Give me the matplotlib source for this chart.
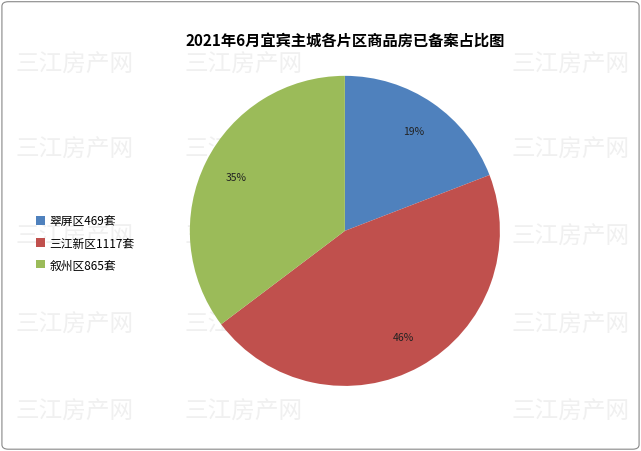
import matplotlib
matplotlib.use("Agg")
import matplotlib.pyplot as plt
from matplotlib.patches import FancyBboxPatch, Patch

plt.rcParams['font.family'] = ['Noto Sans CJK SC', 'DejaVu Sans']

labels = ["翠屏区469套", "三江新区1117套", "叙州区865套"]
values = [469, 1117, 865]
colors = ["#4F81BD", "#C0504D", "#9BBB59"]

fig = plt.figure(figsize=(6.41, 4.52), dpi=100)
border = FancyBboxPatch((0.003, 0.004), 0.994, 0.99, boxstyle="round,pad=0,rounding_size=0.01",
                        transform=fig.transFigure, fc="none", ec="#888888", lw=0.8, zorder=-10)
fig.patches.append(border)

# watermark
for x in (0.117, 0.38, 0.89):
    for y in (0.856, 0.668, 0.476, 0.281, 0.088):
        fig.text(x, y, "三江房产网", fontsize=17, color="#f0f0f0", ha="center", va="center", zorder=-5)

ax = fig.add_axes([0.296, 0.144, 0.484, 0.686])
ax.patch.set_alpha(0)
wedges, _, autotexts = ax.pie(values, colors=colors, startangle=90, counterclock=False,
                              autopct="%1.0f%%", pctdistance=0.78,
                              textprops={"fontsize": 7.5, "color": "#222222"})
ax.set_xlim(-1, 1)
ax.set_ylim(-1, 1)
ax.set_aspect("equal")

fig.text(0.538, 0.91, "2021年6月宜宾主城各片区商品房已备案占比图", ha="center", va="center",
         fontsize=11, fontweight="bold")

handles = [Patch(facecolor=c, edgecolor="none") for c in colors]
fig.legend(handles, labels, loc="center left", bbox_to_anchor=(0.04, 0.46), frameon=False,
           fontsize=8.5, handlelength=0.7, handleheight=0.7, handletextpad=0.4, labelspacing=0.75)

fig.savefig("out.png", dpi=100)
